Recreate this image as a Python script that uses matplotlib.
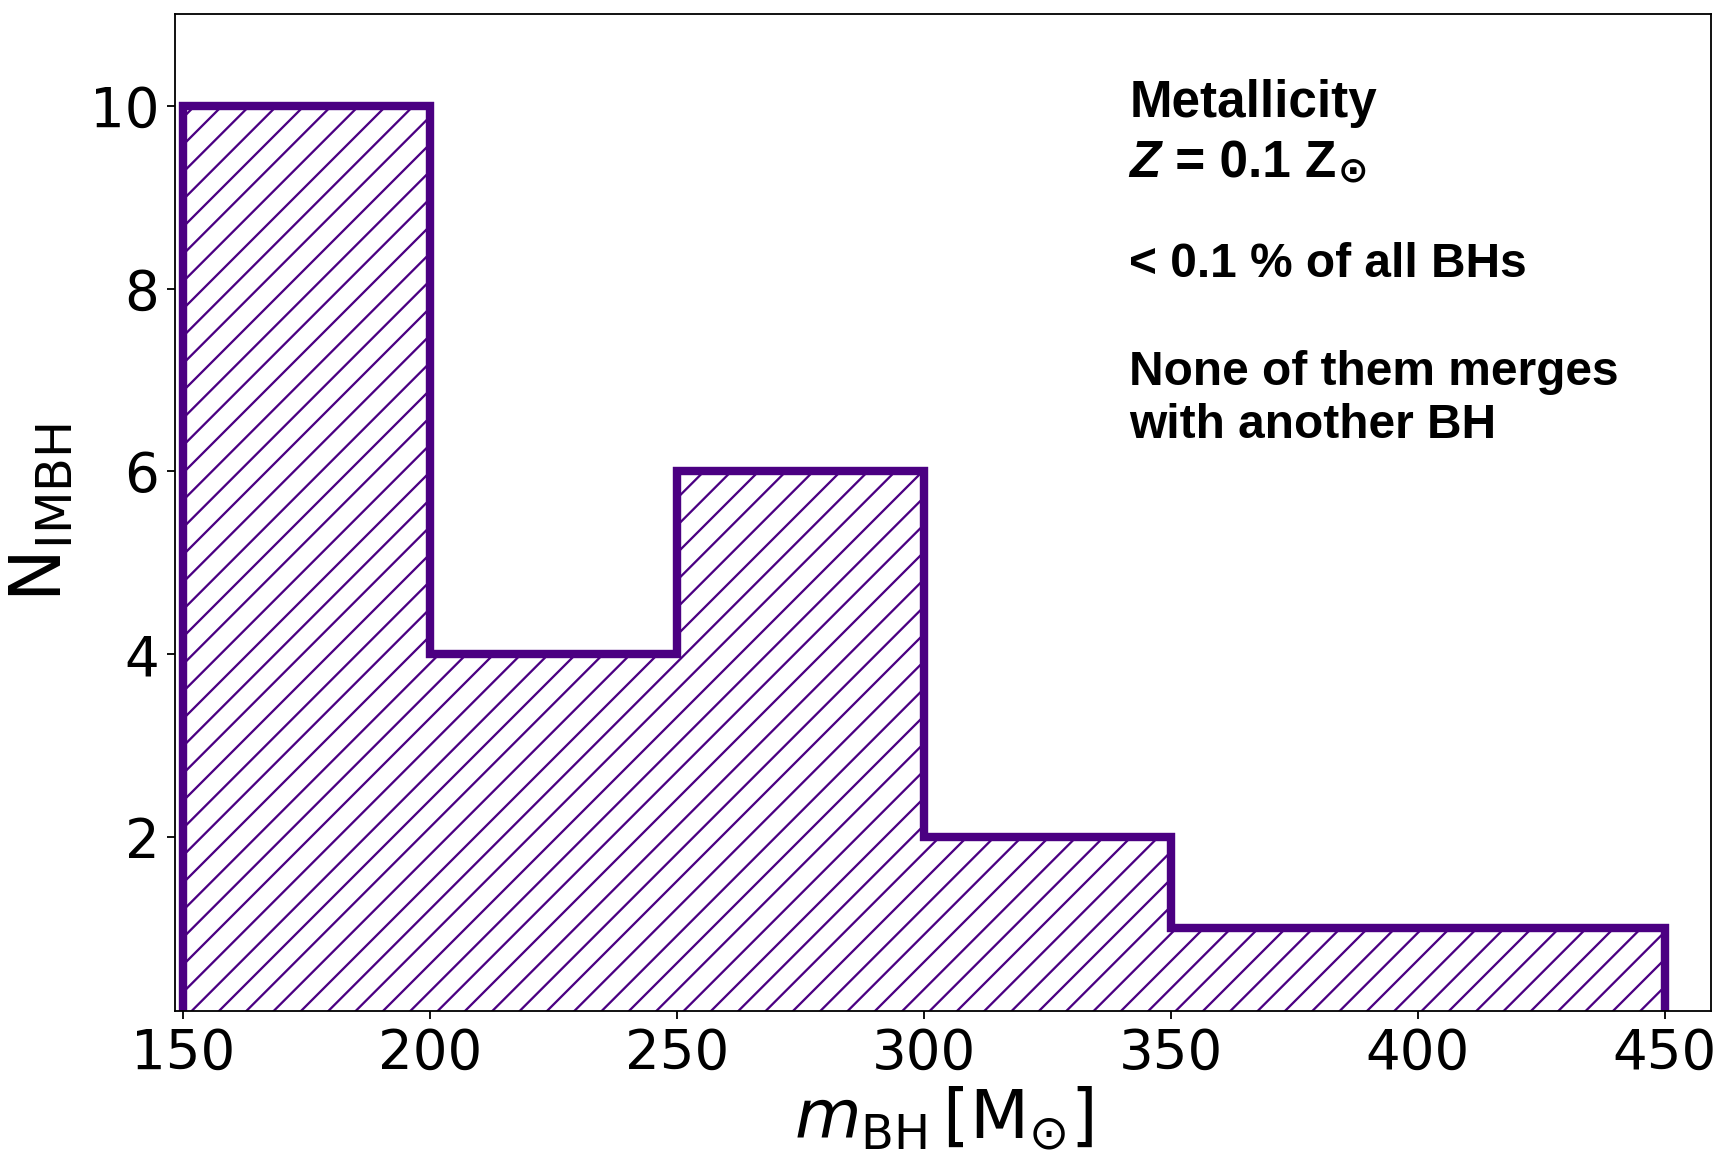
import matplotlib
matplotlib.use("Agg")
import matplotlib.pyplot as plt

# IMBH mass distribution, Z = 0.1 Zsun
bin_edges = [150, 200, 250, 300, 350, 400, 450]
n_imbh = [10, 4, 6, 2, 1, 1]

note_lines = ["Metallicity", None, "< 0.1 % of all BHs",
              "None of them merges", "with another BH"]

color = '#4B0082'
plt.rcParams['hatch.linewidth'] = 1.0

fig = plt.figure(figsize=(1719 / 164, 1157 / 164), dpi=164)
ax = fig.add_axes([0.102, 0.1264, 0.8936, 0.8612])

ax.stairs(n_imbh, bin_edges, fill=True, facecolor='none', edgecolor=color,
          hatch='//', linewidth=3.6)
ax.stairs(n_imbh, bin_edges, fill=False, color=color, linewidth=3.6)

ax.set_xlim(148.5, 459.5)
ax.set_ylim(0.1, 11)
ax.set_xticks([150, 200, 250, 300, 350, 400, 450])
ax.set_yticks([2, 4, 6, 8, 10])
ax.tick_params(labelsize=24)

ax.set_xlabel(r'$m_{\rm BH}\,[\rm M_{\odot}]$', fontsize=30, labelpad=2)
ax.set_ylabel(r'$\rm N_{IMBH}$', fontsize=31, labelpad=6)

# annotation block on the right
font = dict(family=['Liberation Sans', 'DejaVu Sans'], weight='bold')
sizes = [22.5, 22.5, 21, 21, 21]
x0 = 0.621
baselines = [0.8969, 0.8367, 0.7364, 0.6280, 0.5748]
for line, yb, fs in zip(note_lines, baselines, sizes):
    if line is not None:
        ax.text(x0, yb, line, transform=ax.transAxes, va='baseline',
                fontsize=fs, **font)

tz = ax.text(x0, baselines[1], 'Z', transform=ax.transAxes, va='baseline',
             style='italic', fontsize=sizes[1], **font)
tr = ax.annotate(' = 0.1 Z', xy=(1, 0), xycoords=tz, va='bottom',
                 fontsize=sizes[1], **font)
ax.annotate('\u2299', xy=(1, 0), xycoords=tr, va='bottom',
            xytext=(1, 0), textcoords='offset points',
            family='DejaVu Sans', weight='bold', fontsize=16)

fig.savefig('out.png', dpi=164)
